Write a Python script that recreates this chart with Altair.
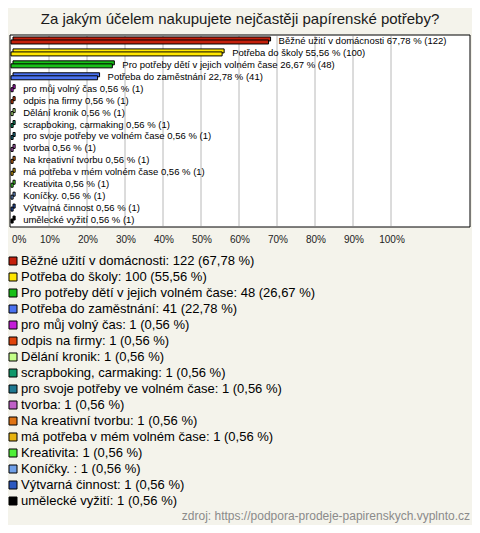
import altair as alt
import pandas as pd

title_text = "Za jakým účelem nakupujete nejčastěji papírenské potřeby?"
source_text = "zdroj: https://podpora-prodeje-papirenskych.vyplnto.cz"

categories = [
    "Běžné užití v domácnosti",
    "Potřeba do školy",
    "Pro potřeby dětí v jejich volném čase",
    "Potřeba do zaměstnání",
    "pro můj volný čas",
    "odpis na firmy",
    "Dělání kronik",
    "scrapboking, carmaking",
    "pro svoje potřeby ve volném čase",
    "tvorba",
    "Na kreativní tvorbu",
    "má potřeba v mém volném čase",
    "Kreativita",
    "Koníčky. ",
    "Výtvarná činnost",
    "umělecké vyžití",
]
counts = [122, 100, 48, 41, 1, 1, 1, 1, 1, 1, 1, 1, 1, 1, 1, 1]
percents = [67.78, 55.56, 26.67, 22.78, 0.56, 0.56, 0.56, 0.56, 0.56, 0.56,
            0.56, 0.56, 0.56, 0.56, 0.56, 0.56]
colors = [
    "#c4200c", "#ffe600", "#18c018", "#4a72f0", "#c41cd8", "#e0440c",
    "#c4ff88", "#10986a", "#1e7890", "#c060c8", "#e07414", "#e8b410",
    "#50f038", "#70a0e8", "#2c58c0", "#000000",
]
ticks = [0, 10, 20, 30, 40, 50, 60, 70, 80, 90, 100]


def fmt(p):
    return f"{p:.2f}".replace(".", ",")


df = pd.DataFrame({
    "cat": categories,
    "pct": percents,
    "count": counts,
    "bar_label": [f"{c} {fmt(p)} % ({n})" for c, p, n in zip(categories, percents, counts)],
    "leg_label": [f"{c}: {n} ({fmt(p)} %)" for c, p, n in zip(categories, percents, counts)],
})
tick_df = pd.DataFrame({"tick": ticks, "lab": [f"{t}%" for t in ticks]})
one = pd.DataFrame({"a": [0]})

W, H = 464, 517
FONT = "Liberation Sans"

x_scale = alt.Scale(domain=[0, 100], range=[3, 383], nice=False, zero=True)
y_scale = alt.Scale(type="band", domain=categories, range=[27, 218], paddingInner=0, paddingOuter=0)
leg_scale = alt.Scale(type="band", domain=categories, range=[245, 501], paddingInner=0, paddingOuter=0)
color_scale = alt.Scale(domain=categories, range=colors)

X = alt.X("pct:Q", scale=x_scale, axis=None)
Y = alt.Y("cat:N", scale=y_scale, axis=None, sort=None)
C = alt.Color("cat:N", scale=color_scale, legend=None, sort=None)

title = alt.Chart(one).mark_text(
    text=title_text, fontSize=15, font=FONT, color="#1a1a1a", align="center", baseline="middle"
).encode(x=alt.value(232), y=alt.value(11))

box = alt.Chart(one).mark_rect(fill="white", stroke="black", strokeWidth=1).encode(
    x=alt.value(2), x2=alt.value(462), y=alt.value(27), y2=alt.value(219)
)

grid = alt.Chart(tick_df).transform_filter("datum.tick > 0").mark_rule(
    color="#b8b8b8", strokeWidth=1
).encode(
    x=alt.X("tick:Q", scale=x_scale, axis=None), y=alt.value(28), y2=alt.value(218)
)

tick_labels = alt.Chart(tick_df).transform_filter("datum.tick > 0").mark_text(
    fontSize=10, font=FONT, color="#222", align="center", baseline="middle", dx=1
).encode(x=alt.X("tick:Q", scale=x_scale, axis=None), y=alt.value(232), text="lab:N")

tick0 = alt.Chart(tick_df).transform_filter("datum.tick == 0").mark_text(
    fontSize=10, font=FONT, color="#222", align="left", baseline="middle", dx=1
).encode(x=alt.X("tick:Q", scale=x_scale, axis=None), y=alt.value(232), text="lab:N")

bar_back = alt.Chart(df).mark_bar(
    size=4, stroke="black", strokeWidth=1, xOffset=2, yOffset=-2
).encode(x=X, y=Y, color=C)

bar_front = alt.Chart(df).mark_bar(
    size=4, stroke="black", strokeWidth=1, yOffset=1
).encode(x=X, y=Y, color=C)

bar_text = alt.Chart(df).mark_text(
    fontSize=9.5, font=FONT, color="black", align="left", baseline="middle", dx=10
).encode(x=X, y=Y, text="bar_label:N")

leg_sq = alt.Chart(df).mark_square(size=64, stroke="black", strokeWidth=1, opacity=1).encode(
    x=alt.value(5), y=alt.Y("cat:N", scale=leg_scale, axis=None, sort=None),
    fill=alt.Fill("cat:N", scale=color_scale, legend=None, sort=None),
)

leg_text = alt.Chart(df).mark_text(
    fontSize=13, font=FONT, color="black", align="left", baseline="middle"
).encode(
    x=alt.value(13), y=alt.Y("cat:N", scale=leg_scale, axis=None, sort=None), text="leg_label:N"
)

footer = alt.Chart(one).mark_text(
    text=source_text, fontSize=12, font=FONT, color="#8a8a8a", align="right", baseline="middle"
).encode(x=alt.value(462), y=alt.value(508))

chart = alt.layer(
    title, box, grid, tick_labels, tick0, bar_back, bar_front, bar_text, leg_sq, leg_text, footer
).resolve_scale(y="independent").properties(
    width=W, height=H, padding=0, autosize=alt.AutoSizeParams(type="none"),
    background="#f4f3eb"
).configure_view(stroke=None)

chart.save("out.html", embed_options={"renderer": "svg", "actions": False})
